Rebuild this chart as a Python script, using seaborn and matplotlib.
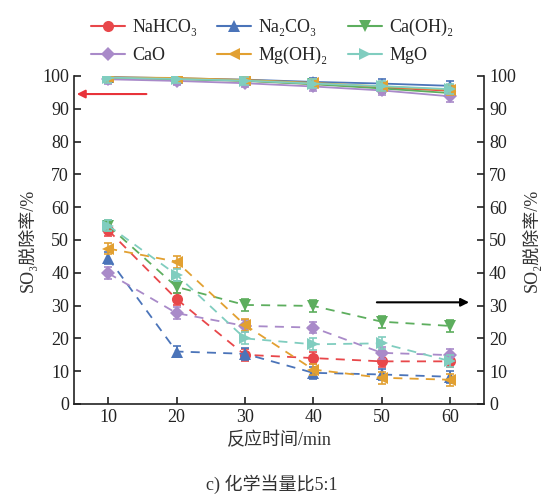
import matplotlib
matplotlib.use("Agg")
import matplotlib.pyplot as plt
from matplotlib.lines import Line2D
import seaborn as sns
import pandas as pd
import numpy as np

sns.set_theme(style="ticks")
plt.rcParams['font.family'] = ['Liberation Serif', 'DejaVu Serif', 'Noto Sans CJK SC']

times = [10, 20, 30, 40, 50, 60]
names = ["NaHCO₃", "Na₂CO₃", "Ca(OH)₂", "CaO", "Mg(OH)₂", "MgO"]
keys = ["NaHCO3", "Na2CO3", "Ca(OH)2", "CaO", "Mg(OH)2", "MgO"]
colors = ["#E8474A", "#4B74B9", "#5DAE5E", "#A98AC9", "#E2A031", "#80CDBF"]
markers = ["o", "^", "v", "D", "<", ">"]
msizes = [8, 8, 8, 7, 8, 8]

# SO3 removal (left axis, solid lines)
so3_nahco3 = [99.5, 99.2, 98.6, 97.6, 96.5, 95.5]
so3_na2co3 = [99.7, 99.3, 98.9, 98.2, 97.7, 97.0]
so3_caoh2 = [99.4, 99.0, 98.5, 97.5, 96.2, 94.8]
so3_cao = [99.0, 98.5, 97.8, 96.8, 95.6, 93.8]
so3_mgoh2 = [99.6, 99.4, 98.8, 97.9, 96.8, 95.8]
so3_mgo = [99.5, 99.1, 98.6, 97.7, 96.9, 96.0]
so3_err = [1.5, 1.3, 1.2, 1.3, 1.5, 1.6]

# SO2 removal (right axis, dashed lines)
so2_nahco3 = [53.0, 32.0, 15.0, 14.0, 13.0, 13.0]
so2_na2co3 = [44.5, 16.0, 15.3, 9.5, 9.0, 8.3]
so2_caoh2 = [54.4, 35.7, 30.2, 29.9, 25.1, 23.8]
so2_cao = [39.9, 27.7, 23.8, 23.3, 15.6, 14.9]
so2_mgoh2 = [47.4, 43.4, 24.1, 10.5, 8.0, 7.4]
so2_mgo = [54.4, 39.4, 20.0, 18.2, 18.5, 13.1]
so2_err = [1.8, 1.8, 1.8, 1.8, 1.8, 1.8]

so3 = [so3_nahco3, so3_na2co3, so3_caoh2, so3_cao, so3_mgoh2, so3_mgo]
so2 = [so2_nahco3, so2_na2co3, so2_caoh2, so2_cao, so2_mgoh2, so2_mgo]

rows3, rows2 = [], []
for k, s3, s2 in zip(keys, so3, so2):
    for t, a, b in zip(times, s3, s2):
        rows3.append({"t": t, "v": a, "s": k})
        rows2.append({"t": t, "v": b, "s": k})
df3 = pd.DataFrame(rows3)
df2 = pd.DataFrame(rows2)

fig = plt.figure(figsize=(5.44, 5.0), dpi=100)
ax = fig.add_axes([0.136, 0.192, 0.754, 0.656])
ax2 = ax.twinx()

for i, k in enumerate(keys):
    d3 = df3[df3.s == k]
    d2 = df2[df2.s == k]
    ax.errorbar(d3.t, d3.v, yerr=so3_err, fmt="none", ecolor=colors[i], elinewidth=1.2, capsize=3, capthick=1.2, zorder=2)
    ax2.errorbar(d2.t, d2.v, yerr=so2_err, fmt="none", ecolor=colors[i], elinewidth=1.2, capsize=3, capthick=1.2, zorder=2)
    sns.lineplot(data=d3, x="t", y="v", ax=ax, color=colors[i], marker=markers[i], markersize=msizes[i],
                 markeredgewidth=0, linewidth=1.3, legend=False)
    sns.lineplot(data=d2, x="t", y="v", ax=ax2, color=colors[i], marker=markers[i], markersize=msizes[i],
                 markeredgewidth=0, linewidth=1.3, linestyle=(0, (5, 4)), legend=False)

for a in (ax, ax2):
    a.set_xlim(5, 65)
    a.set_ylim(0, 100)
    a.set_yticks(range(0, 101, 10))
    a.spines['top'].set_visible(False)
    for sp in a.spines.values():
        sp.set_linewidth(1.2)
        sp.set_color("#222222")
    a.tick_params(direction="in", length=5, width=1.2, labelsize=13, colors="#222222")
ax.set_xticks(times)
ax.set_xlabel("反应时间/min", fontsize=13, color="#333333")
ax.set_ylabel("SO₃脱除率/%", fontsize=13, color="#333333")
ax2.set_ylabel("SO₂脱除率/%", fontsize=13, color="#333333")
ax2.tick_params(axis="y", labelright=True, right=True)
ax.spines['right'].set_visible(False)
ax2.spines['left'].set_visible(False)
ax2.spines['bottom'].set_visible(False)

ax.annotate("", xy=(5.0, 94.5), xytext=(16.0, 94.5),
            arrowprops=dict(arrowstyle="-|>", color="#E8333A", lw=1.5, mutation_scale=12))
ax2.annotate("", xy=(63.2, 31.0), xytext=(48.9, 31.0),
             arrowprops=dict(arrowstyle="-|>", color="black", lw=1.5, mutation_scale=12))

handles = [Line2D([0], [0], color=c, marker=m, markersize=s, markeredgewidth=0, linewidth=1.5)
           for c, m, s in zip(colors, markers, msizes)]
order = [0, 3, 1, 4, 2, 5]
fig.legend([handles[i] for i in order], [names[i] for i in order], loc="upper center",
           bbox_to_anchor=(0.5, 0.995), ncol=3, frameon=False,
           fontsize=13, handlelength=1.9, columnspacing=1.1, handletextpad=0.4, labelspacing=0.6)

fig.text(0.5, 0.02, "c) 化学当量比5:1", ha="center", fontsize=13, color="#333333")

fig.savefig("out.png", dpi=100)
